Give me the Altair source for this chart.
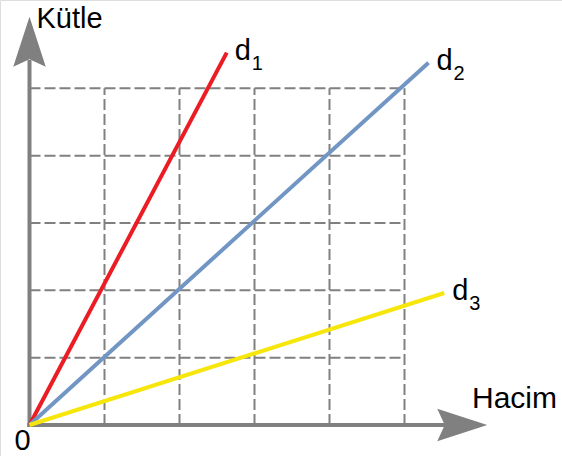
import altair as alt
import pandas as pd

# Grid positions (in grid units) for volume (x) and mass (y)
grid_x = [1, 2, 3, 4, 5]
grid_y = [1, 2, 3, 4, 5]
grid_max = 5

# Straight lines through the origin: end points of each series
series = ["d1", "d2", "d3"]
end_x = [2.63, 5.32, 5.53]
end_y = [5.53, 5.38, 1.96]
colors = ["#ec1c24", "#7196c4", "#f7e60c"]
subscripts = ["1", "2", "3"]

# Axis extents (shaft ends and arrowhead centres, grid units)
x_shaft_end, x_arrow = 5.54, 5.77
y_shaft_end, y_arrow = 5.42, 5.69

W, H = 562, 456
x_scale = alt.Scale(domain=[-0.3933, 7.1], nice=False, zero=False)
y_scale = alt.Scale(domain=[-0.4603, 6.3112], nice=False, zero=False)

GREY = "#808080"
FONT = "Liberation Sans"

# dashed grid
vgrid = pd.DataFrame({"x": grid_x, "y0": 0, "y1": grid_max})
hgrid = pd.DataFrame({"y": grid_y, "x0": 0, "x1": grid_max})

vrules = alt.Chart(vgrid).mark_rule(
    color=GREY, strokeWidth=2, strokeDash=[11, 4]
).encode(
    x=alt.X("x:Q", scale=x_scale, axis=None),
    y=alt.Y("y0:Q", scale=y_scale, axis=None),
    y2="y1:Q",
)
hrules = alt.Chart(hgrid).mark_rule(
    color=GREY, strokeWidth=2, strokeDash=[11, 4]
).encode(
    y=alt.Y("y:Q", scale=y_scale, axis=None),
    x=alt.X("x0:Q", scale=x_scale, axis=None),
    x2="x1:Q",
)

# axis shafts
axes_df = pd.DataFrame({
    "x0": [-0.03, 0], "x1": [x_shaft_end, 0],
    "y0": [0, -0.03], "y1": [0, y_shaft_end],
})
shafts = alt.Chart(axes_df).mark_rule(color=GREY, strokeWidth=4).encode(
    x=alt.X("x0:Q", scale=x_scale, axis=None),
    x2="x1:Q",
    y=alt.Y("y0:Q", scale=y_scale, axis=None),
    y2="y1:Q",
)

# arrowheads
arrow_df = pd.DataFrame({
    "x": [x_arrow, 0], "y": [0, y_arrow], "angle": [90, 0],
})
arrowheads = alt.Chart(arrow_df).mark_point(
    shape="M0,-1L0.65,1L0,0.7L-0.65,1Z",
    size=2500, filled=True, color=GREY, opacity=1, strokeWidth=0,
).encode(
    x=alt.X("x:Q", scale=x_scale, axis=None),
    y=alt.Y("y:Q", scale=y_scale, axis=None),
    angle=alt.Angle("angle:Q", scale=None),
)

# series lines
rows = []
for s, ex, ey in zip(series, end_x, end_y):
    rows.append({"s": s, "x": 0.0, "y": 0.0, "o": 0})
    rows.append({"s": s, "x": ex, "y": ey, "o": 1})
lines_df = pd.DataFrame(rows)
lines = alt.Chart(lines_df).mark_line(strokeWidth=4).encode(
    x=alt.X("x:Q", scale=x_scale, axis=None),
    y=alt.Y("y:Q", scale=y_scale, axis=None),
    color=alt.Color("s:N", scale=alt.Scale(domain=series, range=colors), legend=None),
    order="o:Q",
    detail="s:N",
)

# series labels: "d" plus subscript, placed past each line end
lab_df = pd.DataFrame({"x": end_x, "y": end_y, "sub": subscripts})
d_text = alt.Chart(lab_df).mark_text(
    text="d", font=FONT, fontSize=29, align="left", baseline="alphabetic",
    dx=8, dy=7, color="black",
).encode(
    x=alt.X("x:Q", scale=x_scale, axis=None),
    y=alt.Y("y:Q", scale=y_scale, axis=None),
)
sub_text = alt.Chart(lab_df).mark_text(
    font=FONT, fontSize=20, align="left", baseline="alphabetic",
    dx=25, dy=17, color="black",
).encode(
    x=alt.X("x:Q", scale=x_scale, axis=None),
    y=alt.Y("y:Q", scale=y_scale, axis=None),
    text="sub:N",
)

# axis titles and origin label
titles_df = pd.DataFrame({
    "x": [0, x_shaft_end, 0],
    "y": [y_arrow, 0, 0],
    "t": ["Kütle", "Hacim", "0"],
    "dx": [7, 27, -7],
    "dy": [-14, -17, 25],
    "fs": [29, 30, 29],
})
titles = alt.layer(*[
    alt.Chart(titles_df.iloc[[i]]).mark_text(
        font=FONT, fontSize=int(r.fs), align="left" if r.t != "0" else "center",
        baseline="alphabetic", dx=int(r.dx), dy=int(r.dy), color="black",
    ).encode(
        x=alt.X("x:Q", scale=x_scale, axis=None),
        y=alt.Y("y:Q", scale=y_scale, axis=None),
        text="t:N",
    )
    for i, r in enumerate(titles_df.itertuples())
])

chart = alt.layer(
    vrules, hrules, shafts, lines, arrowheads, d_text, sub_text, titles
).properties(
    width=W, height=H,
    autosize=alt.AutoSizeParams(type="none"),
    padding=0,
).configure_view(stroke=None).configure(background="white")

chart.save("out.html", embed_options={"renderer": "svg", "actions": False})
